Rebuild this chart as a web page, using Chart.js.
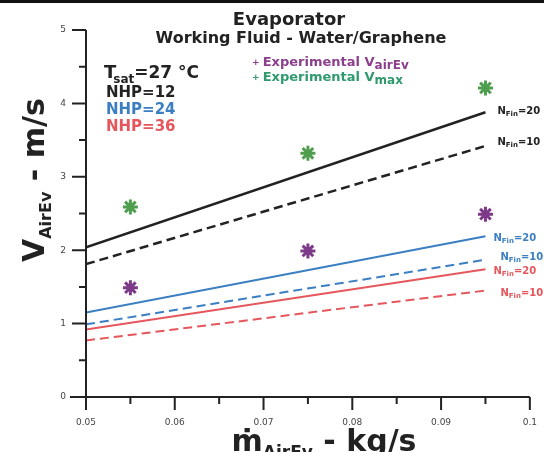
<!DOCTYPE html>
<html>
<head>
<meta charset="utf-8">
<script src="https://cdn.jsdelivr.net/npm/chart.js@4"></script>
<style>
  html, body { margin: 0; padding: 0; background: #fff; }
  #wrap { width: 544px; height: 452px; }
</style>
</head>
<body>
<div id="wrap"><canvas id="evapChart"></canvas></div>
<script>
"use strict";

// line end points (model) and experimental points
const massFlow = [0.05, 0.095];
const expFlow = [0.055, 0.075, 0.095];

const nhp12Fin20 = [2.04, 3.88];
const nhp12Fin10 = [1.81, 3.42];
const nhp24Fin20 = [1.15, 2.19];
const nhp24Fin10 = [0.99, 1.87];
const nhp36Fin20 = [0.92, 1.74];
const nhp36Fin10 = [0.77, 1.45];

const expVairEv = [1.49, 1.99, 2.49];
const expVmax = [2.59, 3.32, 4.21];

const xMajorTicks = [0.05, 0.06, 0.07, 0.08, 0.09, 0.1];
const xMinorTicks = [0.055, 0.065, 0.075, 0.085, 0.095];
const yMajorTicks = [0, 1, 2, 3, 4, 5];
const yMinorTicks = [0.5, 1.5, 2.5, 3.5, 4.5];

const BLACK = '#222222';
const BLUE = '#3b7fc2';
const RED = '#e5575c';
const PURPLE = '#7c3a88';
const GREEN = '#4f9d4f';
const FONT = '"DejaVu Sans"';

function toPoints(xs, ys) {
    return xs.map((x, i) => ({ x: x, y: ys[i] }));
}

function lineSet(ys, color, dashed, width) {
    return {
        type: 'line',
        data: toPoints(massFlow, ys),
        borderColor: color,
        borderWidth: width,
        borderDash: dashed ? [9, 5] : [],
        pointRadius: 0,
        fill: false
    };
}

function starSet(ys, color) {
    return {
        type: 'scatter',
        data: toPoints(expFlow, ys),
        pointStyle: 'star',
        pointRadius: 7.5,
        borderWidth: 3,
        borderColor: color,
        backgroundColor: color
    };
}

// draws a run of text pieces, each with its own size / offset
function drawRich(ctx, x, y, segs) {
    let cx = x;
    segs.forEach(s => {
        ctx.font = 'bold ' + s.size + 'px ' + FONT;
        ctx.fillStyle = s.color;
        cx += (s.dx || 0);
        ctx.fillText(s.t, cx, y + (s.dy || 0));
        cx += ctx.measureText(s.t).width;
    });
    return cx;
}

function richWidth(ctx, segs) {
    let w = 0;
    segs.forEach(s => {
        ctx.font = 'bold ' + s.size + 'px ' + FONT;
        w += ctx.measureText(s.t).width + (s.dx || 0);
    });
    return w;
}

function finLabel(n, color) {
    return [
        { t: 'N', size: 10, color: color },
        { t: 'Fin', size: 7, color: color, dy: 2 },
        { t: '=' + n, size: 10, color: color }
    ];
}

const decorPlugin = {
    id: 'decor',
    afterDraw(chart) {
        const ctx = chart.ctx;
        const xs = chart.scales.x;
        const ys = chart.scales.y;
        const x0 = xs.getPixelForValue(0.05);
        const x1 = xs.getPixelForValue(0.1);
        const y0 = ys.getPixelForValue(0);
        const y1 = ys.getPixelForValue(5);

        ctx.save();
        // top frame line
        ctx.fillStyle = '#111';
        ctx.fillRect(0, 0, 544, 3);

        // axes
        ctx.strokeStyle = BLACK;
        ctx.lineWidth = 2;
        ctx.beginPath();
        ctx.moveTo(x0, y1);
        ctx.lineTo(x0, y0 + 13);
        ctx.moveTo(x0 - 16, y0);
        ctx.lineTo(x1, y0);
        xMajorTicks.forEach(v => {
            const px = xs.getPixelForValue(v);
            ctx.moveTo(px, y0);
            ctx.lineTo(px, y0 + 13);
        });
        xMinorTicks.forEach(v => {
            const px = xs.getPixelForValue(v);
            ctx.moveTo(px, y0);
            ctx.lineTo(px, y0 + 7);
        });
        yMajorTicks.forEach(v => {
            const py = ys.getPixelForValue(v);
            ctx.moveTo(x0, py);
            ctx.lineTo(x0 - 14, py);
        });
        yMinorTicks.forEach(v => {
            const py = ys.getPixelForValue(v);
            ctx.moveTo(x0, py);
            ctx.lineTo(x0 - 7, py);
        });
        ctx.stroke();

        // titles
        ctx.textBaseline = 'alphabetic';
        ctx.textAlign = 'center';
        ctx.fillStyle = BLACK;
        ctx.font = 'bold 18px ' + FONT;
        ctx.fillText('Evaporator', 289, 25);
        ctx.font = 'bold 16px ' + FONT;
        ctx.fillText('Working Fluid - Water/Graphene', 301, 43);
        ctx.textAlign = 'left';

        // conditions block
        drawRich(ctx, 104, 78, [
            { t: 'T', size: 18, color: BLACK },
            { t: 'sat', size: 12, color: BLACK, dy: 5, dx: -3 },
            { t: '=27 °C', size: 17, color: BLACK }
        ]);
        drawRich(ctx, 106, 97, [{ t: 'NHP=12', size: 15, color: BLACK }]);
        drawRich(ctx, 106, 114, [{ t: 'NHP=24', size: 15, color: BLUE }]);
        drawRich(ctx, 106, 131, [{ t: 'NHP=36', size: 15, color: RED }]);

        // experimental legend
        drawRich(ctx, 252, 66, [
            { t: '+ ', size: 9, color: '#8c3f8c', dy: -1 },
            { t: 'Experimental V', size: 13, color: '#8c3f8c' },
            { t: 'airEv', size: 12, color: '#8c3f8c', dy: 3 }
        ]);
        drawRich(ctx, 252, 81, [
            { t: '+ ', size: 9, color: '#2f9a6c', dy: -1 },
            { t: 'Experimental V', size: 13, color: '#2f9a6c' },
            { t: 'max', size: 12, color: '#2f9a6c', dy: 3 }
        ]);

        // N_Fin labels next to the line ends
        const xEnd = xs.getPixelForValue(massFlow[1]);
        const tags = [
            [nhp12Fin20, '20', BLACK, 12, 2],
            [nhp12Fin10, '10', BLACK, 12, -1],
            [nhp24Fin20, '20', BLUE, 8, 5],
            [nhp24Fin10, '10', BLUE, 15, 0],
            [nhp36Fin20, '20', RED, 8, 5],
            [nhp36Fin10, '10', RED, 15, 5]
        ];
        tags.forEach(([ys2, n, color, dx, dy]) => {
            const py = ys.getPixelForValue(ys2[1]);
            drawRich(ctx, xEnd + dx, py + dy, finLabel(n, color));
        });

        // y axis title
        const ySegs = [
            { t: 'V', size: 30, color: BLACK },
            { t: 'AirEv', size: 16, color: BLACK, dy: 7 },
            { t: ' - m/s', size: 30, color: BLACK }
        ];
        ctx.save();
        ctx.translate(44, 262);
        ctx.rotate(-Math.PI / 2);
        drawRich(ctx, 0, 0, ySegs);
        ctx.restore();

        // x axis title
        const xSegs = [
            { t: '\u1E41', size: 30, color: BLACK },
            { t: 'AirEv', size: 17, color: BLACK, dy: 7 },
            { t: ' - kg/s', size: 30, color: BLACK }
        ];
        const w = richWidth(ctx, xSegs);
        drawRich(ctx, 324 - w / 2, 451, xSegs);
        ctx.restore();
    }
};

new Chart(document.getElementById('evapChart'), {
    data: {
        datasets: [
            lineSet(nhp12Fin20, BLACK, false, 2.5),
            lineSet(nhp12Fin10, BLACK, true, 2.5),
            lineSet(nhp24Fin20, BLUE, false, 2),
            lineSet(nhp24Fin10, BLUE, true, 2),
            lineSet(nhp36Fin20, RED, false, 2),
            lineSet(nhp36Fin10, RED, true, 2),
            starSet(expVmax, GREEN),
            starSet(expVairEv, PURPLE)
        ]
    },
    options: {
        responsive: true,
        maintainAspectRatio: false,
        animation: false,
        layout: { padding: { top: 30, right: 11, left: 0, bottom: 0 } },
        plugins: {
            legend: { display: false },
            title: { display: false },
            tooltip: { enabled: false }
        },
        scales: {
            x: {
                type: 'linear',
                min: 0.05,
                max: 0.1,
                grid: { display: false, drawTicks: true, tickLength: 13 },
                border: { display: false },
                ticks: {
                    stepSize: 0.01,
                    padding: 7,
                    maxRotation: 0,
                    color: '#444',
                    font: { family: 'DejaVu Sans', size: 9 },
                    callback: v => String(Number(v.toFixed(2)))
                },
                afterFit: scale => { scale.height = 55; }
            },
            y: {
                min: 0,
                max: 5,
                grid: { display: false, drawTicks: true, tickLength: 14 },
                border: { display: false },
                ticks: {
                    stepSize: 1,
                    padding: 6,
                    color: '#444',
                    font: { family: 'DejaVu Sans', size: 9 }
                },
                afterFit: scale => { scale.width = 86; }
            }
        }
    },
    plugins: [decorPlugin]
});
</script>
</body>
</html>
